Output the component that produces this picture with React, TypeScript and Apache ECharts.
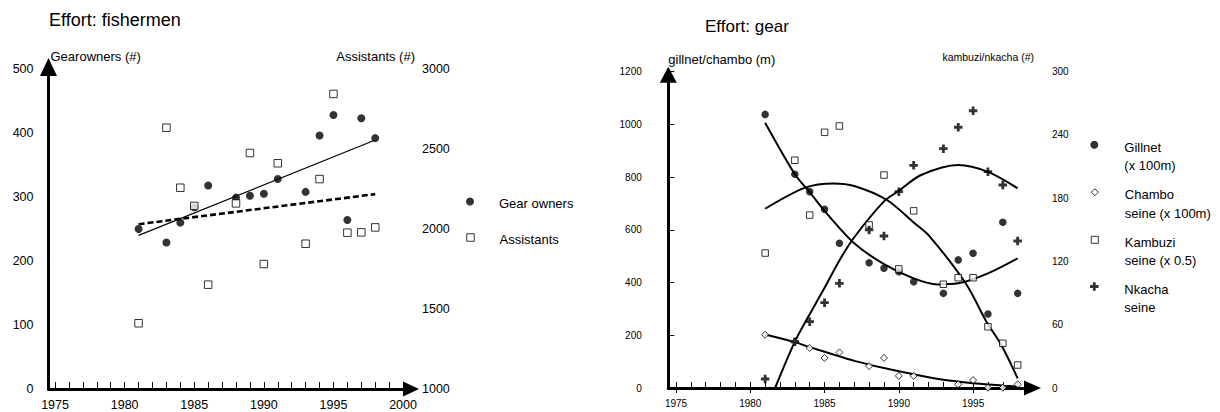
import React, { useEffect, useRef } from 'react';
import * as echarts from 'echarts';

const FONT = "'Liberation Sans', Arial, Helvetica, sans-serif";

// ---------- Left chart: Effort: fishermen ----------
const fishermenYears = [1981, 1983, 1984, 1985, 1986, 1988, 1989, 1990, 1991, 1993, 1994, 1995, 1996, 1997, 1998];
const gearOwners = [250, 229, 260, 284, 318, 299, 302, 305, 328, 308, 396, 428, 264, 423, 392];
const assistants = [1411, 2633, 2258, 2144, 1652, 2160, 2475, 1781, 2411, 1908, 2312, 2844, 1977, 1979, 2010];
const trendYears = [1981, 1998];
const gearOwnersTrend = [240, 389];
const assistantsTrend = [2030, 2218];
const leftXLabels = [1975, 1980, 1985, 1990, 1995, 2000];
const leftXTicks = [1975, 1976, 1977, 1978, 1979, 1980, 1981, 1982, 1983, 1984, 1985, 1986, 1987, 1988, 1989, 1990, 1991, 1992, 1993, 1994, 1995, 1996, 1997, 1998, 1999, 2000];

// ---------- Right chart: Effort: gear ----------
const gearYears = [1981, 1983, 1984, 1985, 1986, 1988, 1989, 1990, 1991, 1993, 1994, 1995, 1996, 1997, 1998];
const gillnet = [1038, 811, 745, 678, 549, 475, 454, 441, 403, 359, 486, 511, 281, 629, 359];
const kambuzi = [128, 216, 164, 242.5, 248.5, 154.6, 202, 112.9, 168, 98.4, 104.6, 104.6, 58.1, 42.4, 21.8];
const nkacha = [8.5, 43.9, 62.9, 80.9, 99.3, 149.9, 144.2, 186.2, 211.2, 227, 247.3, 263, 205.2, 192.5, 139.4];
const chamboYears = [1981, 1983, 1984, 1985, 1986, 1988, 1989, 1990, 1991, 1994, 1995, 1996, 1997, 1998];
const chambo = [202, 176, 152, 114, 135, 83, 114, 46, 46, 14, 30, 1, 1, 14];

const gillnetFitYears = [1981, 1983, 1984, 1985, 1987, 1989, 1991, 1992.6, 1994, 1996, 1998];
const gillnetFit = [1006, 811, 743, 672, 549, 470, 416, 393, 397, 435, 492];
const chamboFitYears = [1981, 1983, 1984, 1986, 1987, 1989, 1991, 1993, 1995, 1997, 1998];
const chamboFit = [203, 174, 155, 120, 103, 76, 52, 31, 18, 9, 5];
const kambuziFitYears = [1981, 1983.7, 1985.6, 1987, 1989.2, 1991, 1992, 1994.5, 1995.9, 1996.9, 1998];
const kambuziFit = [170, 190, 194, 191.6, 178.3, 157, 145, 99.3, 62.9, 40.8, 9.2];
const nkachaFitYears = [1981.67, 1983, 1984, 1985, 1986, 1987, 1989, 1990, 1991.5, 1994, 1996, 1998];
const nkachaFit = [0, 44, 70, 95, 121, 143, 177, 187, 202, 211.5, 205, 189.4];

const rightXLabels = [1975, 1980, 1985, 1990, 1995];
const rightXTicks = [1975, 1976, 1977, 1978, 1979, 1980, 1981, 1982, 1983, 1984, 1985, 1986, 1987, 1988, 1989, 1990, 1991, 1992, 1993, 1994, 1995, 1996, 1997, 1998];
const rightXMajorTicks = [1975, 1980, 1985, 1990, 1995];

const NAME_GILLNET = 'Gillnet\n(x 100m)';
const NAME_CHAMBO = 'Chambo\nseine (x 100m)';
const NAME_KAMBUZI = 'Kambuzi\nseine (x 0.5)';
const NAME_NKACHA = 'Nkacha\nseine';

const CROSS = 'path://M3,0H6V3H9V6H6V9H3V6H0V3H3Z';

const pairs = (xs: number[], ys: number[]) => xs.map((x, i) => [x, ys[i]]);
const plain = (v: number) => String(v);

const black = '#000';
const openStyle = { color: '#fff', borderColor: black, borderWidth: 1 };

// one legend per entry: icon centre (cx, cy), text starting at textX,
// first text line shifted `shift` px below the icon centre
function legendEntry(name: string, cx: number, cy: number, textX: number, size: number, bw: number, lineH: number, shift: number) {
  const lines = name.split('\n').length;
  const spacerH = 2 * shift + (lines - 1) * lineH;
  const left = cx - size / 2;
  const gap = textX - (left + size + 5);
  return {
    data: [name],
    left,
    top: cy - (lines * lineH) / 2,
    orient: 'vertical',
    padding: 0,
    itemWidth: size,
    itemHeight: size,
    selectedMode: false,
    itemStyle: { borderWidth: bw },
    formatter: (n: string) => ['{s| }', ...n.split('\n').map((l) => `{g| }{t|${l}}`)].join('\n'),
    textStyle: {
      color: black,
      fontFamily: FONT,
      fontSize: 13,
      rich: {
        s: { fontSize: 1, lineHeight: spacerH },
        g: { fontSize: 13, width: gap, lineHeight: lineH },
        t: { fontSize: 13, lineHeight: lineH, color: black, fontFamily: FONT },
      },
    },
  };
}

function buildOption() {
  return {
    animation: false,
    backgroundColor: '#fff',
    textStyle: { fontFamily: FONT, color: black },
    title: [
      {
        text: 'Effort: fishermen',
        left: 49,
        top: 11,
        padding: 0,
        textStyle: { fontSize: 18, fontWeight: 'normal', color: black, fontFamily: FONT },
      },
      {
        text: 'Effort: gear',
        left: 705,
        top: 18,
        padding: 0,
        textStyle: { fontSize: 17, fontWeight: 'normal', color: black, fontFamily: FONT },
      },
    ],
    grid: [
      { left: 48.5, top: 69, width: 362.5, height: 320 },
      { left: 668.3, top: 71.7, width: 364.2, height: 316.3 },
    ],
    xAxis: [
      {
        gridIndex: 0,
        type: 'value',
        position: 'bottom',
        min: 1974.53,
        max: 2000.57,
        axisLine: {
          show: true,
          onZero: false,
          lineStyle: { color: black, width: 3 },
          symbol: ['none', 'triangle'],
          symbolSize: [15, 16],
        },
        axisTick: { show: true, inside: true, length: 7, customValues: leftXTicks, lineStyle: { color: black, width: 1 } },
        axisLabel: { customValues: leftXLabels, formatter: plain, margin: 9, fontSize: 12.5, color: black, fontFamily: FONT },
        splitLine: { show: false },
      },
      {
        gridIndex: 1,
        type: 'value',
        position: 'bottom',
        min: 1974.48,
        max: 1999.0,
        axisLine: {
          show: true,
          onZero: false,
          lineStyle: { color: black, width: 3 },
          symbol: ['none', 'triangle'],
          symbolSize: [15, 17],
        },
        axisTick: { show: true, inside: true, length: 6, customValues: rightXTicks, lineStyle: { color: black, width: 1 } },
        axisLabel: { customValues: rightXLabels, formatter: plain, margin: 10, fontSize: 10, color: black, fontFamily: FONT },
        splitLine: { show: false },
      },
      {
        gridIndex: 1,
        type: 'value',
        position: 'bottom',
        min: 1974.48,
        max: 1999.0,
        axisLine: { show: false, onZero: false },
        axisTick: { show: true, inside: false, length: 5, customValues: rightXMajorTicks, lineStyle: { color: black, width: 1 } },
        axisLabel: { show: false },
        splitLine: { show: false },
      },
    ],
    yAxis: [
      {
        gridIndex: 0,
        type: 'value',
        position: 'left',
        min: 0,
        max: 500,
        interval: 100,
        name: 'Gearowners (#)',
        nameLocation: 'end',
        nameGap: 13,
        nameTextStyle: { align: 'left', verticalAlign: 'middle', fontSize: 13, color: black, fontFamily: FONT, padding: [0, 0, 0, 2] },
        axisLine: {
          show: true,
          onZero: false,
          lineStyle: { color: black, width: 3 },
          symbol: ['none', 'triangle'],
          symbolSize: [17, 18],
          symbolOffset: [0, 2],
        },
        axisTick: { show: false },
        axisLabel: { formatter: plain, margin: 15, fontSize: 12.5, color: black, fontFamily: FONT },
        splitLine: { show: false },
      },
      {
        gridIndex: 0,
        type: 'value',
        position: 'right',
        min: 1000,
        max: 3000,
        interval: 500,
        name: 'Assistants (#)',
        nameLocation: 'end',
        nameGap: 13,
        nameTextStyle: { align: 'right', verticalAlign: 'middle', fontSize: 13, color: black, fontFamily: FONT, padding: [0, -4, 0, 0] },
        axisLine: { show: false, onZero: false },
        axisTick: { show: false },
        axisLabel: { formatter: plain, margin: 11, fontSize: 12.5, color: black, fontFamily: FONT },
        splitLine: { show: false },
      },
      {
        gridIndex: 1,
        type: 'value',
        position: 'left',
        min: 0,
        max: 1200,
        interval: 200,
        name: 'gillnet/chambo (m)',
        nameLocation: 'end',
        nameGap: 12,
        nameTextStyle: { align: 'left', verticalAlign: 'middle', fontSize: 13, color: black, fontFamily: FONT },
        axisLine: {
          show: true,
          onZero: false,
          lineStyle: { color: black, width: 3 },
          symbol: ['none', 'triangle'],
          symbolSize: [17, 16],
          symbolOffset: [0, -3],
        },
        axisTick: { show: true, inside: true, length: 6, lineStyle: { color: black, width: 1 } },
        axisLabel: { formatter: plain, margin: 26.5, fontSize: 10, color: black, fontFamily: FONT },
        splitLine: { show: false },
      },
      {
        gridIndex: 1,
        type: 'value',
        position: 'right',
        min: 0,
        max: 300,
        interval: 60,
        name: 'kambuzi/nkacha (#)',
        nameLocation: 'end',
        nameGap: 14.4,
        nameTextStyle: { align: 'right', verticalAlign: 'middle', fontSize: 10.5, color: black, fontFamily: FONT, padding: [0, -1.5, 0, 0] },
        axisLine: { show: false, onZero: false },
        axisTick: { show: false },
        axisLabel: { formatter: plain, margin: 19.5, fontSize: 10, color: black, fontFamily: FONT },
        splitLine: { show: false },
      },
    ],
    legend: [
      legendEntry('Gear owners', 470, 201, 499, 8, 0, 15, 2),
      legendEntry('Assistants', 470, 237, 499, 7.5, 1, 15, 2),
      legendEntry(NAME_GILLNET, 1094.3, 144.3, 1124.3, 8, 0, 18.5, 2.5),
      legendEntry(NAME_CHAMBO, 1094.3, 191.7, 1124.3, 7, 1, 18.5, 2.5),
      legendEntry(NAME_KAMBUZI, 1094.3, 239.3, 1124.3, 7, 1, 18.5, 2.5),
      legendEntry(NAME_NKACHA, 1094.3, 286, 1124.3, 8.5, 0, 18.5, 2.5),
    ],
    series: [
      // ----- left chart trend lines -----
      {
        name: 'Gear owners trend',
        type: 'line',
        xAxisIndex: 0,
        yAxisIndex: 0,
        data: pairs(trendYears, gearOwnersTrend),
        symbol: 'none',
        lineStyle: { color: black, width: 1.2 },
        z: 1,
      },
      {
        name: 'Assistants trend',
        type: 'line',
        xAxisIndex: 0,
        yAxisIndex: 1,
        data: pairs(trendYears, assistantsTrend),
        symbol: 'none',
        lineStyle: { color: black, width: 2.6, type: [6, 3] },
        z: 1,
      },
      // ----- left chart points -----
      {
        name: 'Gear owners',
        type: 'scatter',
        xAxisIndex: 0,
        yAxisIndex: 0,
        data: pairs(fishermenYears, gearOwners),
        symbol: 'circle',
        symbolSize: 8,
        itemStyle: { color: black },
        z: 3,
      },
      {
        name: 'Assistants',
        type: 'scatter',
        xAxisIndex: 0,
        yAxisIndex: 1,
        data: pairs(fishermenYears, assistants),
        symbol: 'rect',
        symbolSize: 7.5,
        itemStyle: openStyle,
        z: 3,
      },
      // ----- right chart fitted curves -----
      {
        name: 'Gillnet fit',
        type: 'line',
        xAxisIndex: 1,
        yAxisIndex: 2,
        data: pairs(gillnetFitYears, gillnetFit),
        symbol: 'none',
        smooth: 0.3,
        lineStyle: { color: black, width: 2 },
        z: 1,
      },
      {
        name: 'Chambo fit',
        type: 'line',
        xAxisIndex: 1,
        yAxisIndex: 2,
        data: pairs(chamboFitYears, chamboFit),
        symbol: 'none',
        smooth: 0.3,
        lineStyle: { color: black, width: 2 },
        z: 1,
      },
      {
        name: 'Kambuzi fit',
        type: 'line',
        xAxisIndex: 1,
        yAxisIndex: 3,
        data: pairs(kambuziFitYears, kambuziFit),
        symbol: 'none',
        smooth: 0.3,
        lineStyle: { color: black, width: 2 },
        z: 1,
      },
      {
        name: 'Nkacha fit',
        type: 'line',
        xAxisIndex: 1,
        yAxisIndex: 3,
        data: pairs(nkachaFitYears, nkachaFit),
        symbol: 'none',
        smooth: 0.3,
        lineStyle: { color: black, width: 2 },
        z: 1,
      },
      // ----- right chart points -----
      {
        name: NAME_GILLNET,
        type: 'scatter',
        xAxisIndex: 1,
        yAxisIndex: 2,
        data: pairs(gearYears, gillnet),
        symbol: 'circle',
        symbolSize: 7.5,
        itemStyle: { color: black },
        z: 3,
      },
      {
        name: NAME_CHAMBO,
        type: 'scatter',
        xAxisIndex: 1,
        yAxisIndex: 2,
        data: pairs(chamboYears, chambo),
        symbol: 'diamond',
        symbolSize: 7,
        itemStyle: openStyle,
        z: 3,
      },
      {
        name: NAME_KAMBUZI,
        type: 'scatter',
        xAxisIndex: 1,
        yAxisIndex: 3,
        data: pairs(gearYears, kambuzi),
        symbol: 'rect',
        symbolSize: 6.5,
        itemStyle: openStyle,
        z: 3,
      },
      {
        name: NAME_NKACHA,
        type: 'scatter',
        xAxisIndex: 1,
        yAxisIndex: 3,
        data: pairs(gearYears, nkacha),
        symbol: CROSS,
        symbolSize: 8.5,
        itemStyle: { color: black },
        z: 3,
      },
    ],
  };
}

export default function App() {
  const ref = useRef<HTMLDivElement>(null);
  useEffect(() => {
    document.body.style.margin = '0';
    if (!ref.current) return;
    const chart = echarts.init(ref.current, null, { renderer: 'svg' });
    chart.setOption(buildOption() as any);
    return () => {
      chart.dispose();
    };
  }, []);
  return <div ref={ref} style={{ width: 1220, height: 412 }} />;
}
